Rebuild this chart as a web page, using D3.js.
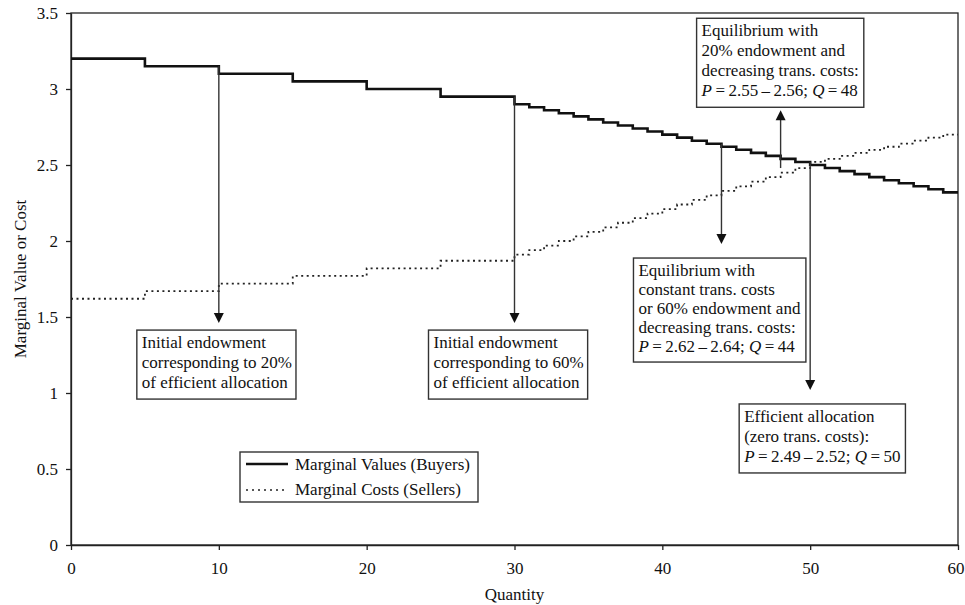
<!DOCTYPE html>
<html>
<head>
<meta charset="utf-8">
<script src="https://d3js.org/d3.v7.min.js"></script>
<style>
  body { margin: 0; background: #fff; }
  text { font-family: "Liberation Serif", "Times New Roman", serif; fill: #111; }
</style>
</head>
<body>
<script>
// marginal value of each unit (unit 1..60)
var buyers = [
  3.20, 3.20, 3.20, 3.20, 3.20,
  3.15, 3.15, 3.15, 3.15, 3.15,
  3.10, 3.10, 3.10, 3.10, 3.10,
  3.05, 3.05, 3.05, 3.05, 3.05,
  3.00, 3.00, 3.00, 3.00, 3.00,
  2.95, 2.95, 2.95, 2.95, 2.95,
  2.90, 2.88, 2.86, 2.84, 2.82, 2.80, 2.78, 2.76, 2.74, 2.72,
  2.70, 2.68, 2.66, 2.64, 2.62, 2.60, 2.58, 2.56, 2.54, 2.52,
  2.50, 2.48, 2.46, 2.44, 2.42, 2.40, 2.38, 2.36, 2.34, 2.32
];
// marginal cost of each unit (unit 1..60)
var sellers = [
  1.62, 1.62, 1.62, 1.62, 1.62,
  1.67, 1.67, 1.67, 1.67, 1.67,
  1.72, 1.72, 1.72, 1.72, 1.72,
  1.77, 1.77, 1.77, 1.77, 1.77,
  1.82, 1.82, 1.82, 1.82, 1.82,
  1.87, 1.87, 1.87, 1.87, 1.87,
  1.91, 1.94, 1.97, 2.00, 2.03, 2.06, 2.09, 2.12, 2.15, 2.18,
  2.21, 2.24, 2.27, 2.30, 2.33, 2.36, 2.39, 2.42, 2.45, 2.48,
  2.52, 2.54, 2.56, 2.58, 2.60, 2.62, 2.64, 2.66, 2.68, 2.70
];
var xTicks = [0, 10, 20, 30, 40, 50, 60];
var yTicks = [0, 0.5, 1, 1.5, 2, 2.5, 3, 3.5];

// annotations: quantity, arrow start value, arrow tip value, text
var noteQ = [10, 30, 44, 50, 48];
var noteFrom = [3.15, 2.95, 2.64, 2.52, 2.48];
var noteTo = [1.46, 1.46, 1.98, 1.02, 2.86];
var noteText = [
  ["Initial endowment", "corresponding to 20%", "of efficient allocation"],
  ["Initial endowment", "corresponding to 60%", "of efficient allocation"],
  ["Equilibrium with", "constant trans. costs", "or 60% endowment and", "decreasing trans. costs:", "P|2.62|2.64|44"],
  ["Efficient allocation", "(zero trans. costs):", "P|2.49|2.52|50"],
  ["Equilibrium with", "20% endowment and", "decreasing trans. costs:", "P|2.55|2.56|48"]
];
// box placement relative to the arrow tip
var noteShift = [-82, -86, -88, -71, -84];
var noteGap = [7, 7, 14, 14, 3];
var noteLead = [20, 20, 19, 20, 20];

var width = 965, height = 605;
var svg = d3.select('body').append('svg')
    .attr('width', width)
    .attr('height', height);

var x = d3.scaleLinear().domain([0, 60]).range([71, 958]);
var y = d3.scaleLinear().domain([0, 3.5]).range([545, 13]);

// frame
svg.append('rect')
    .attr('x', x(0)).attr('y', y(3.5))
    .attr('width', x(60) - x(0)).attr('height', y(0) - y(3.5))
    .attr('fill', 'none').attr('stroke', '#222').attr('stroke-width', 1.3);

var xAxis = svg.append('g')
    .attr('transform', 'translate(0,' + y(0) + ')')
    .call(d3.axisBottom(x).tickValues(xTicks).tickSize(5).tickSizeOuter(0).tickPadding(12).tickFormat(d3.format('d')));
var yAxis = svg.append('g')
    .attr('transform', 'translate(' + x(0) + ',0)')
    .call(d3.axisLeft(y).tickValues(yTicks).tickSize(5).tickSizeOuter(0).tickPadding(8).tickFormat(function (d) { return String(d); }));
[xAxis, yAxis].forEach(function (a) {
  a.selectAll('path, line').attr('stroke', '#222').attr('stroke-width', 1.3);
  a.selectAll('text').style('font-family', '"Liberation Serif", serif').style('font-size', '17px').attr('fill', '#111');
});
// last x label sits against the edge
xAxis.selectAll('.tick').filter(function (d) { return d === 60; })
    .select('text').attr('text-anchor', 'end').attr('x', 6);

svg.append('text')
    .attr('x', (x(0) + x(60)) / 2).attr('y', 600)
    .attr('text-anchor', 'middle').style('font-size', '17px')
    .text('Quantity');
svg.append('text')
    .attr('transform', 'translate(26,' + (y(0) + y(3.5)) / 2 + ') rotate(-90)')
    .attr('text-anchor', 'middle').style('font-size', '17px')
    .text('Marginal Value or Cost');

// step curves
function steps(vals) {
  var pts = vals.map(function (v, i) { return [i, v]; });
  pts.push([vals.length, vals[vals.length - 1]]);
  return pts;
}
var line = d3.line()
    .x(function (d) { return x(d[0]); })
    .y(function (d) { return y(d[1]); })
    .curve(d3.curveStepAfter);

svg.append('path')
    .attr('d', line(steps(sellers)))
    .attr('fill', 'none').attr('stroke', '#222')
    .attr('stroke-width', 1.8).attr('stroke-dasharray', '2,3.5');
svg.append('path')
    .attr('d', line(steps(buyers)))
    .attr('fill', 'none').attr('stroke', '#111')
    .attr('stroke-width', 2.6);

// annotations
noteQ.forEach(function (q, i) {
  var xa = x(q), y0 = y(noteFrom[i]), y1 = y(noteTo[i]);
  var up = y1 < y0;
  var dir = up ? -1 : 1;
  svg.append('line')
      .attr('x1', xa).attr('x2', xa)
      .attr('y1', y0).attr('y2', y1 - dir * 8)
      .attr('stroke', '#333').attr('stroke-width', 1.4);
  svg.append('path')
      .attr('d', 'M' + xa + ',' + y1 + 'L' + (xa - 5) + ',' + (y1 - dir * 10) + 'L' + (xa + 5) + ',' + (y1 - dir * 10) + 'Z')
      .attr('fill', '#111');

  var lines = noteText[i];
  var lead = noteLead[i];
  var h = lines.length * lead + 9;
  var top = up ? y1 - noteGap[i] - h : y1 + noteGap[i];
  var left = xa + noteShift[i];
  var g = svg.append('g');
  var box = g.append('rect')
      .attr('x', left).attr('y', top).attr('height', h)
      .attr('fill', '#fff').attr('stroke', '#333').attr('stroke-width', 1.4);
  var t = g.append('text').style('font-size', '17px');
  lines.forEach(function (s, j) {
    var ty = top + 18 + j * lead;
    if (s.indexOf('|') < 0) {
      t.append('tspan').attr('x', left + 5).attr('y', ty).text(s);
    } else {
      var p = s.split('|');
      t.append('tspan').attr('x', left + 5).attr('y', ty).style('font-style', 'italic').text('P');
      t.append('tspan').text('\u2009=\u2009' + p[1] + '\u2009\u2013\u2009' + p[2] + '; ');
      t.append('tspan').style('font-style', 'italic').text('Q');
      t.append('tspan').text('\u2009=\u2009' + p[3]);
    }
  });
  box.attr('width', t.node().getBBox().width + 9);
});

// legend
var lg = svg.append('g');
lg.append('rect')
    .attr('x', 240).attr('y', 452).attr('width', 238).attr('height', 50)
    .attr('fill', '#fff').attr('stroke', '#333').attr('stroke-width', 1.4);
lg.append('line').attr('x1', 246).attr('x2', 288).attr('y1', 464).attr('y2', 464)
    .attr('stroke', '#111').attr('stroke-width', 2.6);
lg.append('line').attr('x1', 246).attr('x2', 288).attr('y1', 490).attr('y2', 490)
    .attr('stroke', '#222').attr('stroke-width', 1.6).attr('stroke-dasharray', '2,4');
lg.append('text').attr('x', 295).attr('y', 470).style('font-size', '17px').text('Marginal Values (Buyers)');
lg.append('text').attr('x', 295).attr('y', 495).style('font-size', '17px').text('Marginal Costs (Sellers)');
</script>
</body>
</html>
